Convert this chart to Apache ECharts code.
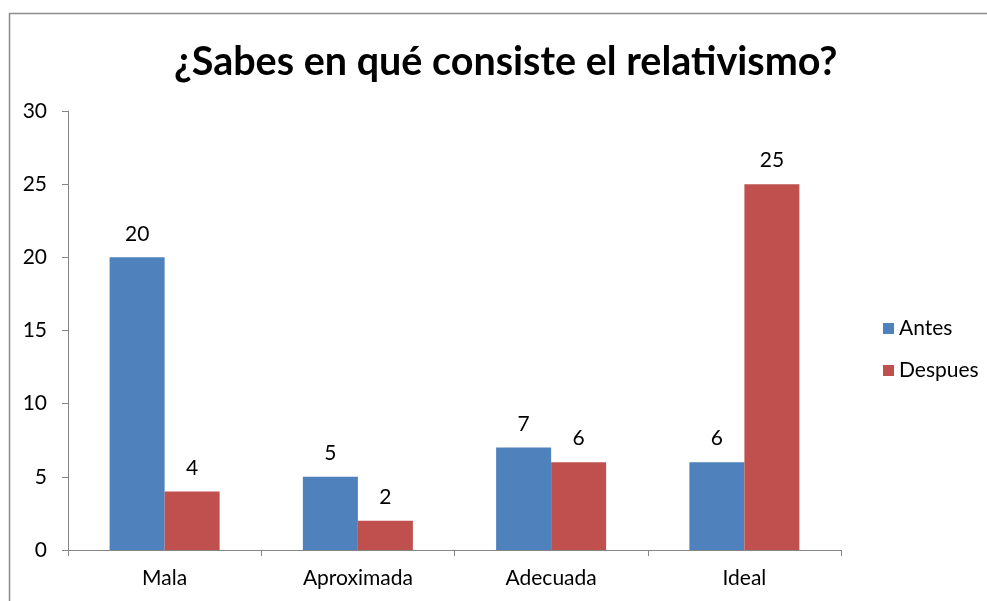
<!DOCTYPE html>
<html><head><meta charset="utf-8">
<script src="https://cdn.jsdelivr.net/npm/echarts@6/dist/echarts.min.js"></script>
<style>html,body{margin:0;padding:0;background:#fff}#c{width:987px;height:601px}</style>
</head><body><div id="c"></div>
<script>
var categories = ['Mala', 'Aproximada', 'Adecuada', 'Ideal'];
var antes = [20, 5, 7, 6];
var despues = [4, 2, 6, 25];
var yTicks = [0, 5, 10, 15, 20, 25, 30];
var titleText = '¿Sabes en qué consiste el relativismo?';

var FONT = 'Lato';
var chart = echarts.init(document.getElementById('c'), null, {renderer: 'canvas'});
chart.setOption({
  animation: false,
  backgroundColor: '#fff',
  graphic: [{type: 'rect', shape: {x: 9.5, y: 13.5, width: 1100, height: 700}, style: {fill: 'none', stroke: '#8c8c8c', lineWidth: 1.5}, silent: true}],
  title: {text: titleText, left: 169, top: 37, textStyle: {fontFamily: FONT, fontWeight: 'bold', fontSize: 39.5, color: '#000'}},
  legend: {orient: 'vertical', left: 878, top: 313, itemWidth: 11, itemHeight: 11, itemGap: 21, icon: 'rect',
    textStyle: {fontFamily: FONT, fontSize: 21, color: '#000'}},
  grid: {left: 68, top: 111, width: 773, height: 439, containLabel: false},
  xAxis: {type: 'category', data: categories,
    axisLine: {lineStyle: {color: '#868686', width: 1}},
    axisTick: {show: true, length: 6, lineStyle: {color: '#868686'}},
    axisLabel: {fontFamily: FONT, fontSize: 21, color: '#000', margin: 18}},
  yAxis: {type: 'value', min: 0, max: 30, interval: 5,
    axisLine: {show: true, lineStyle: {color: '#868686', width: 1}},
    axisTick: {show: true, length: 6, lineStyle: {color: '#868686'}},
    splitLine: {show: false},
    axisLabel: {fontFamily: FONT, fontSize: 21, color: '#000', margin: 21}},
  series: [
    {name: 'Antes', type: 'bar', data: antes, barWidth: 55, barGap: '0%', itemStyle: {color: '#4F81BD'},
      label: {show: true, position: 'top', distance: 13, fontFamily: FONT, fontSize: 21, color: '#000'}},
    {name: 'Despues', type: 'bar', data: despues, barWidth: 55, barGap: '0%', itemStyle: {color: '#C0504D'},
      label: {show: true, position: 'top', distance: 13, fontFamily: FONT, fontSize: 21, color: '#000'}}
  ]
});
</script></body></html>
